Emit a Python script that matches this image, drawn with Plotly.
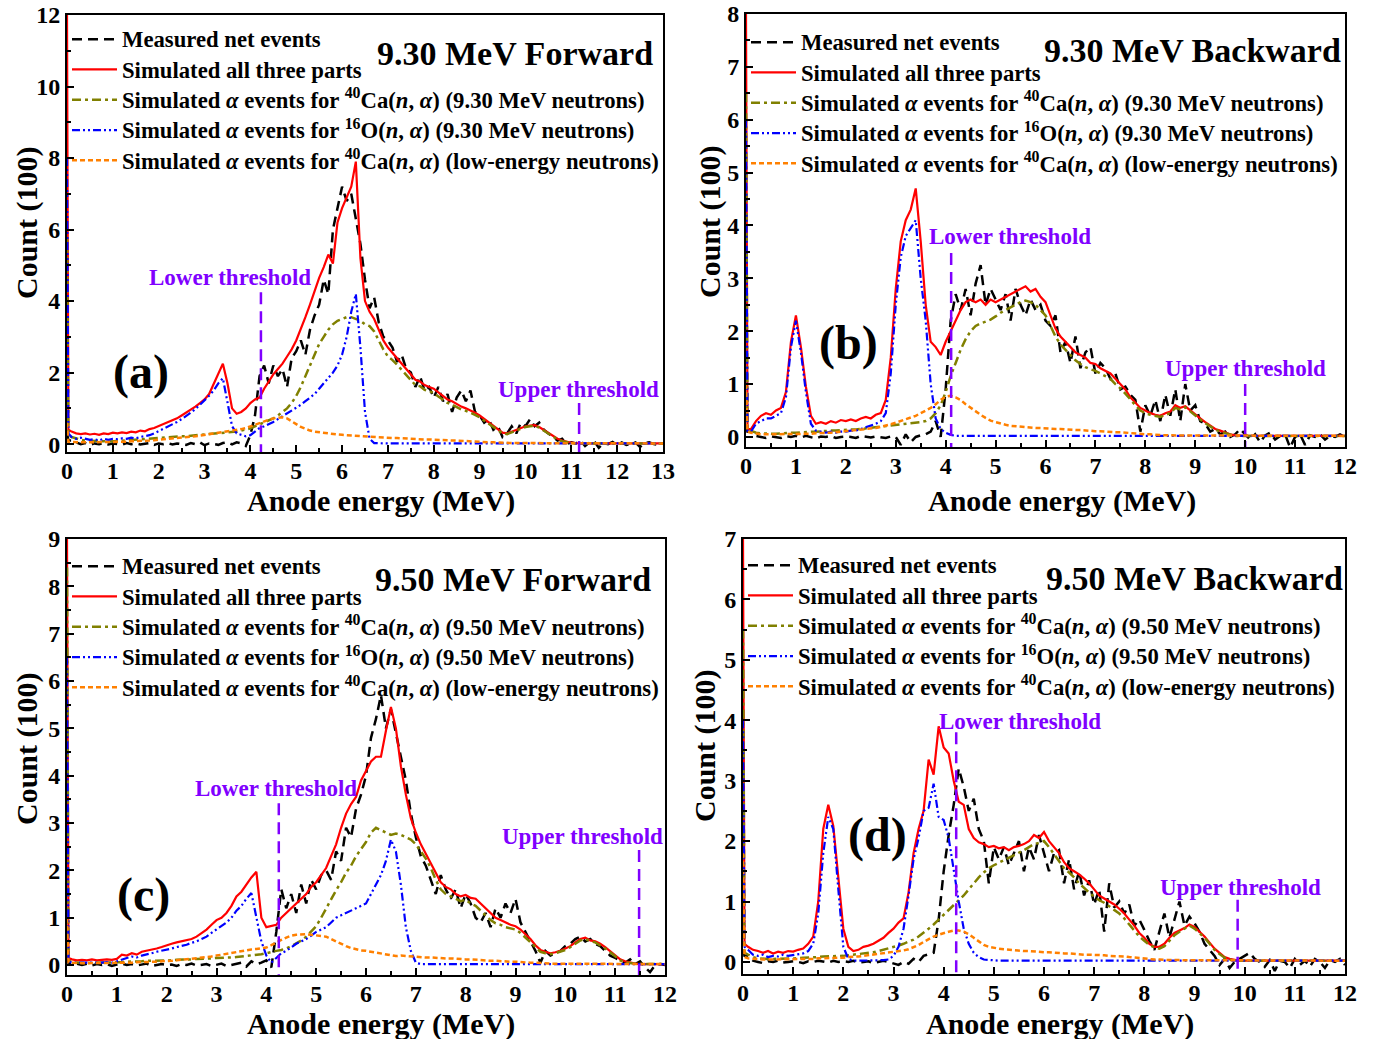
import plotly.graph_objects as go

W, H = 1384, 1039

def grid(n):
    return [0.0, 0.03] + [round(0.1 * i, 1) for i in range(1, n + 1)]

# ---------------- Panel (a) 9.30 MeV Forward ----------------
a_black = [0.30, 0.10,
    0.10, 0.05, 0.00, 0.03, -0.02, 0.02, 0.00, 0.03, -0.01, 0.02,
    0.01, -0.02, 0.03, 0.00, 0.02, -0.01, 0.01, 0.03, -0.02, 0.02,
    0.00, 0.03, -0.01, 0.02, 0.00, -0.02, 0.03, 0.00, 0.05, -0.03,
    0.02, 0.00, -0.02, 0.03, 0.05, -0.01, 0.05, 0.02, -0.05, 0.25,
    0.80, 1.90, 2.20, 1.70, 2.20, 1.90, 2.10, 1.60, 2.40, 2.60,
    2.90, 2.50, 3.20, 3.60, 3.90, 4.60, 4.20, 6.00, 6.60, 7.20,
    6.80, 7.00, 6.30, 5.60, 4.60, 3.80, 4.10, 3.40, 3.00, 2.90,
    2.70, 2.30, 2.50, 2.10, 2.00, 1.60, 1.90, 1.50, 1.60, 1.30,
    1.60, 1.20, 1.40, 0.90, 1.30, 1.50, 1.20, 1.50, 0.90, 0.80,
    0.60, 0.70, 0.40, 0.50, 0.20, 0.30, 0.50, 0.30, 0.60, 0.50,
    0.70, 0.50, 0.60, 0.40, 0.30, 0.20, 0.10, 0.15, 0.00, 0.05,
    0.02, 0.10, -0.05, 0.05, 0.08, -0.10, 0.03, 0.00, 0.06, -0.03,
    0.05, -0.02, 0.00, 0.05, -0.08, 0.03, 0.05, 0.00, -0.02, 0.03]
a_red = [12.0, 0.40,
    0.35, 0.30, 0.28, 0.30, 0.27, 0.29, 0.26, 0.30, 0.28, 0.32,
    0.30, 0.33, 0.31, 0.35, 0.33, 0.38, 0.36, 0.42, 0.45, 0.50,
    0.55, 0.60, 0.66, 0.72, 0.80, 0.88, 0.95, 1.05, 1.15, 1.25,
    1.40, 1.70, 2.00, 2.25, 1.70, 1.00, 0.85, 0.90, 1.00, 1.15,
    1.25, 1.30, 1.55, 1.75, 1.95, 2.10, 2.25, 2.45, 2.65, 2.90,
    3.20, 3.55, 3.90, 4.30, 4.65, 4.95, 5.30, 5.05, 6.20, 6.60,
    6.90, 7.20, 7.90, 5.20, 4.00, 3.70, 3.50, 3.20, 2.90, 2.70,
    2.55, 2.40, 2.25, 2.10, 1.95, 1.80, 1.75, 1.65, 1.60, 1.55,
    1.45, 1.35, 1.25, 1.20, 1.12, 1.05, 1.00, 0.95, 0.88, 0.80,
    0.70, 0.60, 0.50, 0.40, 0.32, 0.30, 0.35, 0.40, 0.45, 0.50,
    0.52, 0.53, 0.48, 0.40, 0.32, 0.22, 0.15, 0.10, 0.06, 0.04,
    0.03, 0.02, 0.02, 0.02, 0.02, 0.02, 0.02, 0.02, 0.02, 0.02,
    0.02, 0.02, 0.02, 0.02, 0.02, 0.02, 0.02, 0.02, 0.02, 0.02]
a_olive = [5.80, 0.25,
    0.20, 0.15, 0.12, 0.10, 0.10, 0.08, 0.08, 0.08, 0.07, 0.08,
    0.08, 0.09, 0.10, 0.10, 0.12, 0.12, 0.13, 0.14, 0.15, 0.17,
    0.18, 0.19, 0.20, 0.20, 0.22, 0.22, 0.24, 0.25, 0.26, 0.27,
    0.28, 0.30, 0.30, 0.31, 0.32, 0.33, 0.35, 0.38, 0.40, 0.44,
    0.50, 0.55, 0.60, 0.65, 0.72, 0.80, 0.90, 1.00, 1.15, 1.35,
    1.60, 1.90, 2.20, 2.50, 2.80, 3.00, 3.20, 3.35, 3.45, 3.50,
    3.55, 3.55, 3.50, 3.45, 3.35, 3.30, 3.15, 2.90, 2.65, 2.45,
    2.35, 2.22, 2.08, 1.95, 1.80, 1.65, 1.62, 1.52, 1.48, 1.43,
    1.33, 1.25, 1.15, 1.10, 1.03, 0.97, 0.93, 0.88, 0.82, 0.75,
    0.66, 0.56, 0.46, 0.37, 0.30, 0.28, 0.33, 0.38, 0.43, 0.48,
    0.50, 0.51, 0.46, 0.38, 0.30, 0.20, 0.13, 0.08, 0.05, 0.03,
    0.02, 0.02, 0.02, 0.02, 0.02, 0.02, 0.02, 0.02, 0.02, 0.02,
    0.02, 0.02, 0.02, 0.02, 0.02, 0.02, 0.02, 0.02, 0.02, 0.02]
a_blue = [8.00, 0.30,
    0.20, 0.15, 0.18, 0.15, 0.12, 0.14, 0.10, 0.15, 0.12, 0.15,
    0.14, 0.16, 0.15, 0.18, 0.16, 0.20, 0.22, 0.25, 0.30, 0.36,
    0.42, 0.48, 0.55, 0.62, 0.70, 0.78, 0.88, 0.98, 1.10, 1.22,
    1.35, 1.50, 1.70, 1.84, 1.20, 0.50, 0.30, 0.25, 0.22, 0.25,
    0.35, 0.45, 0.50, 0.55, 0.62, 0.70, 0.78, 0.85, 0.92, 1.02,
    1.10, 1.20, 1.30, 1.40, 1.55, 1.70, 1.85, 2.00, 2.20, 2.50,
    3.00, 3.70, 4.20, 2.70, 0.90, 0.15, 0.03, 0.02, 0.02, 0.02,
    0.02, 0.02, 0.02, 0.02, 0.02, 0.02, 0.02, 0.02, 0.02, 0.02,
    0.02, 0.02, 0.02, 0.02, 0.02, 0.02, 0.02, 0.02, 0.02, 0.02,
    0.02, 0.02, 0.02, 0.02, 0.02, 0.02, 0.02, 0.02, 0.02, 0.02,
    0.02, 0.02, 0.02, 0.02, 0.02, 0.02, 0.02, 0.02, 0.02, 0.02,
    0.02, 0.02, 0.02, 0.02, 0.02, 0.02, 0.02, 0.02, 0.02, 0.02,
    0.02, 0.02, 0.02, 0.02, 0.02, 0.02, 0.02, 0.02, 0.02, 0.02]
a_orange = [0.60, 0.06,
    0.06, 0.05, 0.05, 0.05, 0.05, 0.05, 0.05, 0.05, 0.06, 0.06,
    0.06, 0.07, 0.07, 0.08, 0.08, 0.09, 0.10, 0.10, 0.11, 0.12,
    0.13, 0.14, 0.15, 0.16, 0.18, 0.19, 0.20, 0.22, 0.24, 0.26,
    0.27, 0.29, 0.30, 0.32, 0.34, 0.36, 0.38, 0.42, 0.45, 0.50,
    0.55, 0.60, 0.64, 0.68, 0.72, 0.74, 0.75, 0.72, 0.65, 0.56,
    0.48, 0.42, 0.38, 0.35, 0.33, 0.31, 0.30, 0.28, 0.27, 0.26,
    0.25, 0.24, 0.24, 0.23, 0.22, 0.21, 0.20, 0.19, 0.19, 0.18,
    0.17, 0.17, 0.16, 0.15, 0.15, 0.14, 0.14, 0.13, 0.13, 0.12,
    0.12, 0.11, 0.11, 0.10, 0.10, 0.09, 0.08, 0.08, 0.07, 0.06,
    0.06, 0.05, 0.05, 0.04, 0.04, 0.04, 0.03, 0.03, 0.03, 0.03,
    0.02, 0.02, 0.02, 0.02, 0.02, 0.02, 0.02, 0.02, 0.02, 0.02,
    0.02, 0.02, 0.02, 0.02, 0.02, 0.02, 0.02, 0.02, 0.02, 0.02,
    0.02, 0.02, 0.02, 0.02, 0.02, 0.02, 0.02, 0.02, 0.02, 0.02]

# ---------------- Panel (b) 9.30 MeV Backward ----------------
b_black = [0.20, 0.10,
    0.10, 0.02, 0.00, -0.02, 0.01, 0.00, -0.02, 0.02, 0.00, 0.02,
    -0.01, 0.02, 0.00, -0.03, 0.01, 0.00, 0.02, -0.02, 0.00, 0.01,
    0.00, -0.02, 0.02, 0.00, -0.01, 0.01, 0.00, -0.02, 0.01, 0.00,
    -0.15, 0.05, -0.10, 0.00, 0.03, 0.05, 0.10, 0.30, 0.00, 0.90,
    2.20, 2.70, 2.40, 2.80, 2.30, 2.90, 3.25, 2.50, 2.80, 2.60,
    2.40, 2.70, 2.20, 2.80, 2.50, 2.30, 2.60, 2.40, 2.50, 2.20,
    2.10, 2.30, 1.60, 1.80, 1.40, 1.90, 1.30, 1.60, 1.70, 1.20,
    1.40, 1.30, 1.10, 1.20, 0.90, 0.95, 0.80, 0.70, 0.10, 0.60,
    0.40, 0.70, 0.30, 0.80, 0.40, 0.90, 0.30, 1.00, 0.50, 0.60,
    0.30, 0.25, 0.10, 0.15, 0.05, 0.10, 0.00, 0.05, 0.15, 0.05,
    -0.05, 0.05, -0.10, 0.03, 0.08, -0.05, 0.02, 0.05, -0.20, 0.00,
    0.05, -0.15, 0.03, 0.00, 0.05, -0.05, 0.02, 0.00, 0.05, 0.00]
b_red = [8.00, 0.15,
    0.15, 0.30, 0.40, 0.45, 0.42, 0.50, 0.55, 0.85, 1.80, 2.30,
    1.70, 0.95, 0.40, 0.25, 0.28, 0.25, 0.30, 0.27, 0.32, 0.30,
    0.33, 0.30, 0.35, 0.38, 0.35, 0.42, 0.45, 0.70, 1.50, 2.80,
    3.70, 4.10, 4.30, 4.70, 3.70, 2.50, 1.80, 1.70, 1.55, 1.80,
    2.00, 2.20, 2.40, 2.55, 2.60, 2.55, 2.60, 2.50, 2.60, 2.55,
    2.60, 2.65, 2.70, 2.75, 2.80, 2.85, 2.75, 2.80, 2.65, 2.55,
    2.30, 2.05, 1.90, 1.80, 1.70, 1.60, 1.55, 1.50, 1.40, 1.38,
    1.30, 1.25, 1.20, 1.10, 1.00, 0.90, 0.75, 0.65, 0.55, 0.50,
    0.45, 0.42, 0.40, 0.45, 0.48, 0.60, 0.55, 0.58, 0.50, 0.42,
    0.35, 0.28, 0.22, 0.15, 0.12, 0.08, 0.05, 0.03, 0.02, 0.02,
    0.02, 0.02, 0.02, 0.02, 0.02, 0.02, 0.02, 0.02, 0.02, 0.02,
    0.02, 0.02, 0.02, 0.02, 0.02, 0.02, 0.02, 0.02, 0.02, 0.02]
b_olive = [6.50, 0.15,
    0.12, 0.08, 0.07, 0.06, 0.06, 0.06, 0.07, 0.07, 0.08, 0.08,
    0.09, 0.09, 0.10, 0.10, 0.11, 0.11, 0.12, 0.12, 0.13, 0.13,
    0.14, 0.14, 0.15, 0.16, 0.17, 0.18, 0.19, 0.20, 0.21, 0.22,
    0.23, 0.24, 0.25, 0.26, 0.28, 0.30, 0.35, 0.45, 0.60, 0.85,
    1.15, 1.40, 1.65, 1.85, 2.00, 2.10, 2.15, 2.18, 2.22, 2.28,
    2.35, 2.40, 2.45, 2.50, 2.55, 2.58, 2.55, 2.50, 2.40, 2.30,
    2.10, 1.90, 1.75, 1.65, 1.55, 1.45, 1.38, 1.32, 1.28, 1.25,
    1.20, 1.15, 1.10, 1.00, 0.92, 0.82, 0.70, 0.60, 0.50, 0.45,
    0.42, 0.40, 0.38, 0.42, 0.45, 0.55, 0.52, 0.56, 0.48, 0.40,
    0.33, 0.26, 0.20, 0.14, 0.10, 0.07, 0.04, 0.02, 0.02, 0.02,
    0.02, 0.02, 0.02, 0.02, 0.02, 0.02, 0.02, 0.02, 0.02, 0.02,
    0.02, 0.02, 0.02, 0.02, 0.02, 0.02, 0.02, 0.02, 0.02, 0.02]
b_blue = [6.00, 0.12,
    0.10, 0.25, 0.30, 0.35, 0.35, 0.40, 0.45, 0.75, 1.70, 2.20,
    1.60, 0.85, 0.25, 0.12, 0.10, 0.08, 0.10, 0.08, 0.10, 0.10,
    0.12, 0.12, 0.15, 0.18, 0.22, 0.25, 0.30, 0.45, 1.20, 2.50,
    3.40, 3.80, 3.95, 4.10, 3.00, 2.20, 1.00, 0.35, 0.15, 0.08,
    0.04, 0.02, 0.02, 0.02, 0.02, 0.02, 0.02, 0.02, 0.02, 0.02,
    0.02, 0.02, 0.02, 0.02, 0.02, 0.02, 0.02, 0.02, 0.02, 0.02,
    0.02, 0.02, 0.02, 0.02, 0.02, 0.02, 0.02, 0.02, 0.02, 0.02,
    0.02, 0.02, 0.02, 0.02, 0.02, 0.02, 0.02, 0.02, 0.02, 0.02,
    0.02, 0.02, 0.02, 0.02, 0.02, 0.02, 0.02, 0.02, 0.02, 0.02,
    0.02, 0.02, 0.02, 0.02, 0.02, 0.02, 0.02, 0.02, 0.02, 0.02,
    0.02, 0.02, 0.02, 0.02, 0.02, 0.02, 0.02, 0.02, 0.02, 0.02,
    0.02, 0.02, 0.02, 0.02, 0.02, 0.02, 0.02, 0.02, 0.02, 0.02]
b_orange = [1.00, 0.10,
    0.08, 0.06, 0.05, 0.05, 0.05, 0.05, 0.05, 0.05, 0.05, 0.05,
    0.06, 0.06, 0.06, 0.07, 0.07, 0.08, 0.08, 0.09, 0.10, 0.10,
    0.11, 0.12, 0.13, 0.14, 0.15, 0.17, 0.19, 0.21, 0.24, 0.27,
    0.30, 0.33, 0.37, 0.40, 0.45, 0.50, 0.55, 0.62, 0.70, 0.76,
    0.78, 0.75, 0.70, 0.62, 0.55, 0.48, 0.42, 0.36, 0.31, 0.28,
    0.25, 0.23, 0.21, 0.20, 0.19, 0.18, 0.18, 0.17, 0.17, 0.16,
    0.16, 0.15, 0.15, 0.14, 0.14, 0.13, 0.13, 0.12, 0.12, 0.11,
    0.11, 0.10, 0.10, 0.09, 0.09, 0.08, 0.08, 0.07, 0.06, 0.05,
    0.05, 0.04, 0.04, 0.03, 0.03, 0.03, 0.03, 0.02, 0.02, 0.02,
    0.02, 0.02, 0.02, 0.02, 0.02, 0.02, 0.02, 0.02, 0.02, 0.02,
    0.02, 0.02, 0.02, 0.02, 0.02, 0.02, 0.02, 0.02, 0.02, 0.02,
    0.02, 0.02, 0.02, 0.02, 0.02, 0.02, 0.02, 0.02, 0.02, 0.02]

# ---------------- Panel (c) 9.50 MeV Forward ----------------
c_black = [0.20, 0.05,
    0.05, 0.02, 0.00, 0.03, -0.01, 0.02, 0.00, 0.02, -0.02, 0.01,
    0.03, 0.00, 0.02, -0.01, 0.01, 0.03, -0.02, 0.00, 0.02, 0.00,
    0.01, -0.02, 0.02, 0.00, 0.03, -0.01, 0.00, 0.02, -0.02, 0.00,
    0.03, -0.02, 0.00, 0.02, 0.05, -0.03, 0.08, 0.02, 0.05, 0.10,
    -0.05, 0.70, 1.60, 1.20, 1.50, 1.10, 1.70, 1.30, 1.80, 1.60,
    1.90, 2.00, 1.80, 2.40, 2.20, 2.90, 2.70, 3.30, 3.60, 4.00,
    4.80, 5.20, 5.70, 5.00, 5.40, 4.90, 4.40, 3.90, 3.20, 2.70,
    2.30, 2.10, 1.80, 1.50, 1.90, 1.60, 1.40, 1.60, 1.20, 1.50,
    1.30, 1.00, 0.90, 1.10, 0.80, 1.20, 1.00, 1.30, 1.10, 1.40,
    0.90, 0.70, 0.50, 0.30, 0.05, 0.30, 0.20, 0.25, 0.30, 0.40,
    0.45, 0.55, 0.60, 0.50, 0.55, 0.45, 0.40, 0.30, 0.20, 0.15,
    0.10, 0.05, 0.12, 0.02, 0.08, -0.05, -0.15, 0.00, 0.02, 0.00]
c_red = [9.00, 0.15,
    0.12, 0.10, 0.11, 0.10, 0.12, 0.10, 0.11, 0.12, 0.11, 0.13,
    0.22, 0.20, 0.25, 0.22, 0.28, 0.30, 0.32, 0.35, 0.38, 0.42,
    0.45, 0.48, 0.50, 0.52, 0.55, 0.60, 0.68, 0.75, 0.85, 0.95,
    1.00, 1.10, 1.25, 1.45, 1.55, 1.70, 1.85, 1.97, 1.00, 0.80,
    0.82, 0.85, 1.00, 1.10, 1.20, 1.30, 1.40, 1.50, 1.65, 1.75,
    1.90, 2.05, 2.30, 2.55, 2.90, 3.20, 3.40, 3.55, 3.90, 4.10,
    4.30, 4.40, 4.40, 4.95, 5.45, 5.00, 4.20, 3.60, 3.10, 2.80,
    2.55, 2.35, 2.15, 1.95, 1.75, 1.65, 1.60, 1.50, 1.45, 1.48,
    1.42, 1.40, 1.30, 1.20, 1.10, 1.00, 0.95, 0.90, 0.85, 0.82,
    0.75, 0.65, 0.55, 0.42, 0.32, 0.28, 0.25, 0.27, 0.30, 0.35,
    0.40, 0.48, 0.55, 0.58, 0.52, 0.50, 0.45, 0.38, 0.30, 0.20,
    0.12, 0.08, 0.05, 0.03, 0.02, 0.02, 0.02, 0.02, 0.02, 0.02]
c_olive = [8.40, 0.10,
    0.06, 0.05, 0.05, 0.04, 0.05, 0.05, 0.05, 0.05, 0.06, 0.06,
    0.06, 0.07, 0.07, 0.08, 0.08, 0.09, 0.09, 0.10, 0.10, 0.10,
    0.10, 0.11, 0.11, 0.12, 0.12, 0.13, 0.13, 0.14, 0.14, 0.15,
    0.15, 0.16, 0.16, 0.17, 0.18, 0.19, 0.20, 0.21, 0.23, 0.25,
    0.28, 0.30, 0.32, 0.35, 0.40, 0.46, 0.52, 0.60, 0.70, 0.82,
    1.00, 1.20, 1.40, 1.58, 1.75, 1.95, 2.10, 2.30, 2.45, 2.60,
    2.80, 2.90, 2.85, 2.80, 2.75, 2.78, 2.75, 2.70, 2.65, 2.55,
    2.40, 2.25, 2.05, 1.80, 1.60, 1.50, 1.45, 1.40, 1.35, 1.38,
    1.30, 1.25, 1.15, 1.05, 0.95, 0.88, 0.85, 0.80, 0.78, 0.75,
    0.68, 0.58, 0.48, 0.36, 0.28, 0.25, 0.23, 0.25, 0.28, 0.32,
    0.38, 0.45, 0.52, 0.55, 0.50, 0.48, 0.42, 0.35, 0.27, 0.18,
    0.10, 0.06, 0.04, 0.03, 0.02, 0.02, 0.02, 0.02, 0.02, 0.02]
c_blue = [6.50, 0.08,
    0.05, 0.05, 0.04, 0.05, 0.04, 0.05, 0.05, 0.06, 0.05, 0.08,
    0.12, 0.15, 0.18, 0.16, 0.20, 0.22, 0.25, 0.28, 0.30, 0.32,
    0.35, 0.38, 0.40, 0.43, 0.47, 0.50, 0.55, 0.60, 0.68, 0.75,
    0.82, 0.90, 1.00, 1.15, 1.25, 1.40, 1.52, 1.00, 0.50, 0.20,
    0.05, 0.15, 0.25, 0.30, 0.38, 0.45, 0.50, 0.55, 0.62, 0.70,
    0.75, 0.80, 0.90, 1.00, 1.05, 1.10, 1.15, 1.20, 1.25, 1.30,
    1.50, 1.70, 1.90, 2.20, 2.65, 2.40, 1.70, 0.80, 0.30, 0.05,
    0.02, 0.02, 0.02, 0.02, 0.02, 0.02, 0.02, 0.02, 0.02, 0.02,
    0.02, 0.02, 0.02, 0.02, 0.02, 0.02, 0.02, 0.02, 0.02, 0.02,
    0.02, 0.02, 0.02, 0.02, 0.02, 0.02, 0.02, 0.02, 0.02, 0.02,
    0.02, 0.02, 0.02, 0.02, 0.02, 0.02, 0.02, 0.02, 0.02, 0.02,
    0.02, 0.02, 0.02, 0.02, 0.02, 0.02, 0.02, 0.02, 0.02, 0.02]
c_orange = [1.00, 0.06,
    0.05, 0.04, 0.04, 0.04, 0.04, 0.04, 0.04, 0.04, 0.04, 0.05,
    0.05, 0.05, 0.05, 0.06, 0.06, 0.06, 0.07, 0.07, 0.08, 0.08,
    0.09, 0.10, 0.11, 0.12, 0.13, 0.14, 0.15, 0.16, 0.18, 0.20,
    0.22, 0.24, 0.26, 0.28, 0.30, 0.32, 0.33, 0.34, 0.35, 0.37,
    0.42, 0.48, 0.53, 0.58, 0.62, 0.64, 0.65, 0.65, 0.64, 0.63,
    0.62, 0.60, 0.55, 0.50, 0.44, 0.40, 0.36, 0.33, 0.31, 0.30,
    0.28, 0.26, 0.24, 0.22, 0.20, 0.19, 0.20, 0.19, 0.18, 0.18,
    0.17, 0.16, 0.16, 0.15, 0.15, 0.14, 0.14, 0.13, 0.13, 0.12,
    0.12, 0.11, 0.10, 0.10, 0.09, 0.09, 0.08, 0.08, 0.07, 0.07,
    0.06, 0.06, 0.05, 0.05, 0.04, 0.04, 0.03, 0.03, 0.03, 0.03,
    0.02, 0.02, 0.02, 0.02, 0.02, 0.02, 0.02, 0.02, 0.02, 0.02,
    0.02, 0.02, 0.02, 0.02, 0.02, 0.02, 0.02, 0.02, 0.02, 0.02]

# ---------------- Panel (d) 9.50 MeV Backward ----------------
d_black = [0.20, 0.10,
    0.10, 0.02, 0.00, -0.02, 0.01, 0.00, 0.02, -0.01, 0.00, 0.01,
    0.00, -0.02, 0.01, 0.00, 0.02, 0.00, -0.01, 0.02, 0.00, 0.01,
    0.00, 0.02, -0.01, 0.00, 0.01, -0.02, 0.00, 0.02, 0.00, -0.03,
    -0.05, 0.00, -0.03, 0.05, 0.00, 0.10, 0.12, 0.15, 0.70, 1.50,
    2.10, 2.60, 3.20, 2.90, 2.50, 2.70, 2.20, 2.00, 1.30, 1.90,
    1.70, 1.90, 1.60, 1.80, 2.00, 1.50, 1.90, 1.70, 2.10, 1.80,
    1.50, 1.80, 1.85, 1.30, 1.70, 1.20, 1.50, 1.10, 1.35, 0.95,
    1.20, 0.50, 1.30, 0.90, 1.00, 0.80, 0.95, 0.60, 0.70, 0.53,
    0.35, 0.20, 0.50, 0.80, 0.40, 0.70, 1.00, 0.60, 0.75, 0.64,
    0.50, 0.30, 0.20, 0.10, -0.05, 0.05, -0.10, 0.00, 0.05, 0.10,
    0.15, 0.05, 0.00, -0.08, 0.03, -0.15, 0.02, 0.00, -0.10, 0.05,
    -0.05, 0.02, -0.08, 0.05, 0.00, -0.10, 0.03, 0.00, 0.05, -0.05]
d_red = [7.00, 0.30,
    0.25, 0.20, 0.18, 0.15, 0.18, 0.14, 0.17, 0.15, 0.18, 0.17,
    0.20, 0.22, 0.30, 0.42, 1.00, 2.20, 2.60, 2.25, 1.40, 0.55,
    0.25, 0.18, 0.20, 0.25, 0.27, 0.30, 0.35, 0.40, 0.48, 0.55,
    0.65, 0.72, 1.15, 1.80, 2.20, 2.50, 3.35, 3.10, 3.90, 3.55,
    3.45, 3.00, 2.65, 2.60, 2.20, 2.05, 1.98, 1.95, 1.90, 1.92,
    1.88, 1.90, 1.85, 1.90, 1.92, 1.95, 2.00, 2.10, 2.05, 2.15,
    2.00, 1.90, 1.80, 1.65, 1.55, 1.50, 1.45, 1.38, 1.30, 1.20,
    1.10, 1.05, 1.00, 0.95, 0.88, 0.80, 0.70, 0.60, 0.48, 0.40,
    0.30, 0.25, 0.25, 0.30, 0.40, 0.48, 0.52, 0.56, 0.62, 0.58,
    0.50, 0.42, 0.32, 0.22, 0.15, 0.08, 0.05, 0.03, 0.02, 0.02,
    0.02, 0.02, 0.02, 0.02, 0.02, 0.02, 0.02, 0.02, 0.02, 0.02,
    0.02, 0.02, 0.02, 0.02, 0.02, 0.02, 0.02, 0.02, 0.02, 0.02]
d_olive = [5.50, 0.15,
    0.12, 0.08, 0.06, 0.05, 0.05, 0.05, 0.05, 0.05, 0.06, 0.06,
    0.06, 0.07, 0.07, 0.08, 0.08, 0.09, 0.09, 0.10, 0.10, 0.10,
    0.11, 0.12, 0.12, 0.13, 0.15, 0.16, 0.18, 0.20, 0.22, 0.25,
    0.27, 0.30, 0.33, 0.37, 0.42, 0.48, 0.55, 0.62, 0.70, 0.78,
    0.86, 0.94, 1.02, 1.10, 1.20, 1.30, 1.40, 1.48, 1.55, 1.60,
    1.64, 1.68, 1.72, 1.76, 1.80, 1.85, 1.90, 1.95, 1.97, 2.00,
    1.90, 1.78, 1.65, 1.55, 1.48, 1.40, 1.30, 1.22, 1.15, 1.08,
    1.02, 0.98, 0.92, 0.86, 0.80, 0.72, 0.62, 0.52, 0.42, 0.35,
    0.28, 0.24, 0.22, 0.26, 0.35, 0.44, 0.50, 0.55, 0.60, 0.55,
    0.48, 0.40, 0.30, 0.20, 0.13, 0.07, 0.04, 0.02, 0.02, 0.02,
    0.02, 0.02, 0.02, 0.02, 0.02, 0.02, 0.02, 0.02, 0.02, 0.02,
    0.02, 0.02, 0.02, 0.02, 0.02, 0.02, 0.02, 0.02, 0.02, 0.02]
d_blue = [4.00, 0.25,
    0.20, 0.12, 0.10, 0.12, 0.08, 0.10, 0.09, 0.12, 0.10, 0.11,
    0.12, 0.14, 0.18, 0.30, 0.80, 1.80, 2.40, 2.20, 1.20, 0.25,
    0.05, 0.02, 0.02, 0.02, 0.02, 0.02, 0.02, 0.03, 0.04, 0.10,
    0.25, 0.55, 1.10, 1.70, 2.05, 2.50, 2.55, 2.95, 2.40, 2.35,
    2.05, 1.50, 1.00, 0.55, 0.30, 0.15, 0.08, 0.04, 0.03, 0.02,
    0.02, 0.02, 0.02, 0.02, 0.02, 0.02, 0.02, 0.02, 0.02, 0.02,
    0.02, 0.02, 0.02, 0.02, 0.02, 0.02, 0.02, 0.02, 0.02, 0.02,
    0.02, 0.02, 0.02, 0.02, 0.02, 0.02, 0.02, 0.02, 0.02, 0.02,
    0.02, 0.02, 0.02, 0.02, 0.02, 0.02, 0.02, 0.02, 0.02, 0.02,
    0.02, 0.02, 0.02, 0.02, 0.02, 0.02, 0.02, 0.02, 0.02, 0.02,
    0.02, 0.02, 0.02, 0.02, 0.02, 0.02, 0.02, 0.02, 0.02, 0.02,
    0.02, 0.02, 0.02, 0.02, 0.02, 0.02, 0.02, 0.02, 0.02, 0.02]
d_orange = [1.80, 0.08,
    0.06, 0.05, 0.04, 0.04, 0.04, 0.04, 0.04, 0.04, 0.04, 0.05,
    0.05, 0.05, 0.05, 0.05, 0.06, 0.06, 0.06, 0.07, 0.07, 0.07,
    0.08, 0.08, 0.09, 0.10, 0.11, 0.12, 0.13, 0.14, 0.15, 0.16,
    0.17, 0.19, 0.21, 0.24, 0.28, 0.33, 0.38, 0.42, 0.45, 0.48,
    0.50, 0.52, 0.52, 0.50, 0.46, 0.40, 0.34, 0.28, 0.25, 0.23,
    0.22, 0.21, 0.20, 0.19, 0.19, 0.18, 0.18, 0.17, 0.17, 0.16,
    0.16, 0.15, 0.15, 0.14, 0.14, 0.13, 0.13, 0.12, 0.12, 0.12,
    0.11, 0.11, 0.10, 0.10, 0.09, 0.09, 0.08, 0.07, 0.06, 0.05,
    0.05, 0.04, 0.04, 0.03, 0.03, 0.03, 0.03, 0.02, 0.02, 0.02,
    0.02, 0.02, 0.02, 0.02, 0.02, 0.02, 0.02, 0.02, 0.02, 0.02,
    0.02, 0.02, 0.02, 0.02, 0.02, 0.02, 0.02, 0.02, 0.02, 0.02,
    0.02, 0.02, 0.02, 0.02, 0.02, 0.02, 0.02, 0.02, 0.02, 0.02]

# thresholds: energies and line tops (count units)
thr_lower = [4.23, 4.11, 4.25, 4.25]
thr_upper = [11.17, 10.00, 11.48, 9.86]
thr_lower_top = [4.25, 3.48, 3.42, 3.80]
thr_upper_top = [1.15, 1.00, 2.43, 1.03]

energies_label = ["9.30", "9.30", "9.50", "9.50"]
titles = ["9.30 MeV Forward", "9.30 MeV Backward", "9.50 MeV Forward", "9.50 MeV Backward"]
tags = ["(a)", "(b)", "(c)", "(d)"]

panels = [
    (130, a_black, a_red, a_olive, a_blue, a_orange),
    (120, b_black, b_red, b_olive, b_blue, b_orange),
    (120, c_black, c_red, c_olive, c_blue, c_orange),
    (120, d_black, d_red, d_olive, d_blue, d_orange),
]

FONT = "Liberation Serif"
PURPLE = "#8000ff"
styles = [
    dict(color="black", width=2.5, dash="10px,6px"),
    dict(color="#ff0000", width=2.2),
    dict(color="#808000", width=2.5, dash="9px,4px,3px,4px"),
    dict(color="#0000ff", width=2.2, dash="8px,3px,2px,3px,2px,3px"),
    dict(color="#ff8000", width=2.5, dash="5px,3px"),
]

fig = go.Figure()

# geometry in pixels: (left, right, top, bottom)
boxes = [(67, 663, 15, 452), (746, 1345, 14, 447), (67, 665, 539, 975), (743, 1345, 539, 974)]
yranges = [[-0.22, 12], [-0.19, 8], [-0.21, 9], [-0.20, 7]]
xranges = [[0, 13], [0, 12], [0, 12], [0, 12]]
ydticks = [2, 1, 1, 1]
legend_first = [40, 43, 567, 566]
title_pos = [(655, 53), (1343, 50), (653, 579), (1345, 578)]
tag_pos = [(141, 372), (848, 343), (143, 895), (877, 835)]
lower_lbl = [(230, 277), (1010, 237), (276, 788), (1020, 721)]
upper_lbl = [(578, 389), (1245, 369), (582, 836), (1240, 887)]
xtitle_pos = [(381, 501), (1062, 501), (381, 1024), (1060, 1024)]
ytitle_pos = [(27, 223), (710, 221), (27, 749), (705, 745)]

def big(t):
    return '<span style="font-size:22.7px">' + t + '</span>'

annotations = []
for k, (n, blk, red, olv, blu, org) in enumerate(panels):
    sfx = "" if k == 0 else str(k + 1)
    xa, ya = "x" + sfx, "y" + sfx
    leg = "legend" + sfx
    E = grid(n)
    e = energies_label[k]
    names = [
        "Measured net events",
        "Simulated all three parts",
        f"Simulated <i>α</i> events for <sup>40</sup>Ca(<i>n</i>, <i>α</i>) ({e} MeV neutrons)",
        f"Simulated <i>α</i> events for <sup>16</sup>O(<i>n</i>, <i>α</i>) ({e} MeV neutrons)",
        "Simulated <i>α</i> events for <sup>40</sup>Ca(<i>n</i>, <i>α</i>) (low-energy neutrons)",
    ]
    for s, (vals, nm) in enumerate(zip([blk, red, olv, blu, org], names)):
        assert len(vals) == len(E), (k, s, len(vals), len(E))
        fig.add_trace(go.Scatter(x=E, y=vals, mode="lines", name=big(nm), line=styles[s],
                                 xaxis=xa, yaxis=ya, legend=leg))
    for thx, tht in [(thr_lower[k], thr_lower_top[k]), (thr_upper[k], thr_upper_top[k])]:
        fig.add_trace(go.Scatter(x=[thx, thx], y=[tht, yranges[k][0]],
                                 mode="lines", line=dict(color=PURPLE, width=2.5, dash="12px,7px"),
                                 xaxis=xa, yaxis=ya, showlegend=False))

    L, R, T, B = boxes[k]
    axx = dict(domain=[L / W, R / W], anchor=ya, range=xranges[k], dtick=1, tick0=0,
               ticks="inside", ticklen=7, tickwidth=2, tickcolor="black", ticklabelstandoff=-4,
               showline=True, linewidth=2, linecolor="black", mirror=True,
               showgrid=False, zeroline=False, automargin=False,
               tickfont=dict(family=FONT, size=24, color="black", weight="bold"),
               minor=dict(dtick=0.5, ticks="inside", ticklen=4, tickwidth=2, tickcolor="black"))
    axy = dict(domain=[1 - B / H, 1 - T / H], anchor=xa, range=yranges[k], dtick=ydticks[k], tick0=0,
               ticks="inside", ticklen=7, tickwidth=2, tickcolor="black",
               showline=True, linewidth=2, linecolor="black", mirror=True,
               showgrid=False, zeroline=False, automargin=False,
               tickfont=dict(family=FONT, size=24, color="black", weight="bold"),
               minor=dict(dtick=ydticks[k] / 2, ticks="inside", ticklen=4, tickwidth=2, tickcolor="black"))
    fig.update_layout(**{"xaxis" + sfx: axx, "yaxis" + sfx: axy})
    fig.update_layout(**{leg: dict(x=L / W, y=1 - (legend_first[k] - 21) / H, xanchor="left", yanchor="top",
                                   bgcolor="rgba(0,0,0,0)", borderwidth=0, itemwidth=45,
                                   font=dict(family=FONT, size=21, color="black", weight="bold"),
                                   tracegroupgap=0)})

    tx, ty = title_pos[k]
    annotations.append(dict(x=tx / W, y=1 - ty / H, xref="paper", yref="paper", xanchor="right",
                            yanchor="middle", showarrow=False, text=titles[k],
                            font=dict(family=FONT, size=34, color="black", weight="bold")))
    gx, gy = tag_pos[k]
    annotations.append(dict(x=gx / W, y=1 - gy / H, xref="paper", yref="paper", xanchor="center",
                            yanchor="middle", showarrow=False, text=tags[k],
                            font=dict(family=FONT, size=48, color="black", weight="bold")))
    for (lx, ly), txt in [(lower_lbl[k], "Lower threshold"), (upper_lbl[k], "Upper threshold")]:
        annotations.append(dict(x=lx / W, y=1 - ly / H, xref="paper", yref="paper", xanchor="center",
                                yanchor="middle", showarrow=False, text=txt,
                                font=dict(family=FONT, size=23, color=PURPLE, weight="bold")))
    ax_, ay_ = xtitle_pos[k]
    annotations.append(dict(x=ax_ / W, y=1 - ay_ / H, xref="paper", yref="paper", xanchor="center",
                            yanchor="middle", showarrow=False, text="Anode energy (MeV)",
                            font=dict(family=FONT, size=30, color="black", weight="bold")))
    bx_, by_ = ytitle_pos[k]
    annotations.append(dict(x=bx_ / W, y=1 - by_ / H, xref="paper", yref="paper", xanchor="center",
                            yanchor="middle", showarrow=False, text="Count (100)", textangle=-90,
                            font=dict(family=FONT, size=30, color="black", weight="bold")))

fig.update_layout(width=W, height=H, margin=dict(l=0, r=0, t=0, b=0),
                  paper_bgcolor="white", plot_bgcolor="white",
                  font=dict(family=FONT, color="black"),
                  annotations=annotations)

fig.write_html("out.html")
